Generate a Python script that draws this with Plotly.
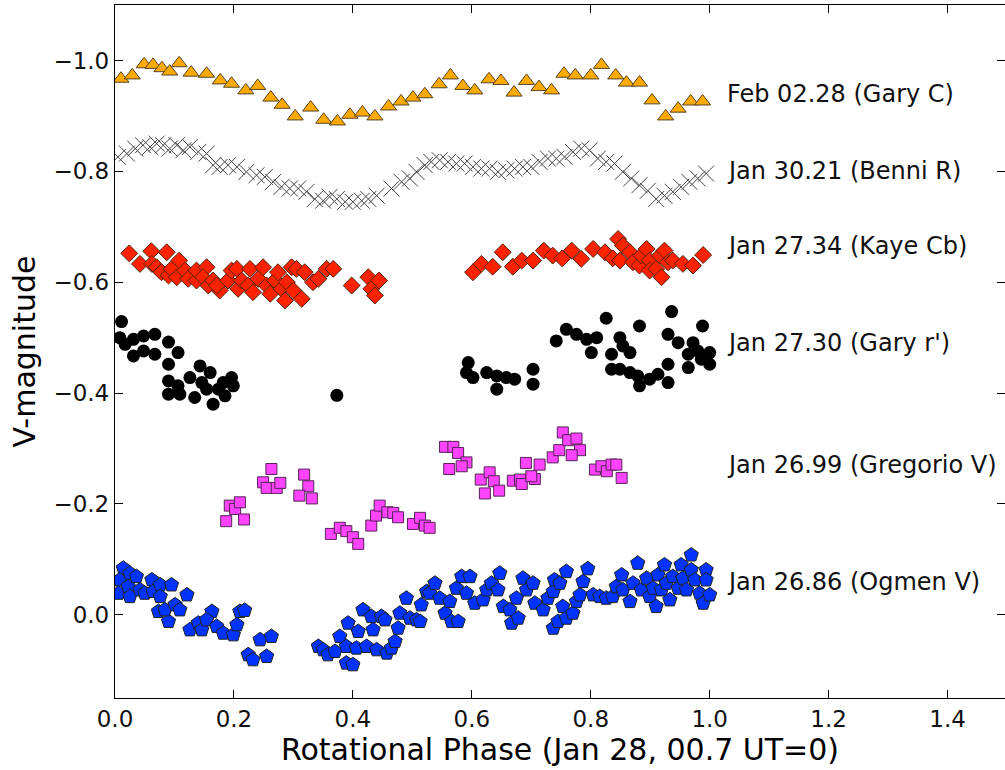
import plotly.graph_objects as go

# ---------------- data ----------------
gary_c_x = [0.010, 0.029, 0.049, 0.064, 0.079, 0.092, 0.108, 0.128, 0.154, 0.177, 0.196, 0.220, 0.240,
            0.262, 0.281, 0.303, 0.329, 0.351, 0.374, 0.395, 0.416, 0.437, 0.460, 0.481, 0.501, 0.521,
            0.545, 0.564, 0.585, 0.605, 0.629, 0.649, 0.671, 0.692, 0.713, 0.734, 0.755, 0.774, 0.800,
            0.818, 0.842, 0.860, 0.882, 0.903, 0.926, 0.947, 0.968, 0.988]
gary_c_y = [-0.967, -0.973, -0.993, -0.992, -0.986, -0.980, -0.995, -0.978, -0.976, -0.964, -0.958, -0.946, -0.954,
            -0.933, -0.920, -0.899, -0.915, -0.893, -0.890, -0.902, -0.906, -0.899, -0.917, -0.926, -0.933, -0.939,
            -0.957, -0.973, -0.954, -0.946, -0.966, -0.963, -0.942, -0.963, -0.952, -0.946, -0.976, -0.973, -0.973,
            -0.992, -0.973, -0.960, -0.960, -0.928, -0.899, -0.913, -0.926, -0.926]

benni_x = [0.005, 0.020, 0.034, 0.047, 0.059, 0.070, 0.081, 0.092, 0.104, 0.115, 0.126, 0.140, 0.154, 0.165,
           0.176, 0.190, 0.205, 0.221, 0.238, 0.252, 0.266, 0.280, 0.294, 0.308, 0.322, 0.336, 0.350, 0.361,
           0.373, 0.387, 0.400, 0.415, 0.426, 0.440, 0.465, 0.482, 0.496, 0.507, 0.521, 0.532, 0.546, 0.560,
           0.574, 0.588, 0.602, 0.616, 0.630, 0.644, 0.658, 0.672, 0.686, 0.700, 0.714, 0.728, 0.742, 0.756,
           0.770, 0.784, 0.798, 0.812, 0.826, 0.840, 0.854, 0.868, 0.882, 0.896, 0.910, 0.924, 0.938, 0.952,
           0.966, 0.980, 0.994]
benni_y = [-0.826, -0.832, -0.841, -0.847, -0.844, -0.850, -0.847, -0.841, -0.847, -0.838, -0.844, -0.835, -0.832, -0.811,
           -0.808, -0.811, -0.808, -0.799, -0.793, -0.790, -0.781, -0.772, -0.769, -0.769, -0.763, -0.750, -0.747, -0.754,
           -0.750, -0.745, -0.745, -0.747, -0.750, -0.756, -0.769, -0.781, -0.787, -0.799, -0.811, -0.817, -0.820, -0.817,
           -0.814, -0.814, -0.808, -0.805, -0.805, -0.799, -0.802, -0.805, -0.808, -0.808, -0.817, -0.823, -0.823, -0.826,
           -0.835, -0.841, -0.838, -0.823, -0.817, -0.814, -0.799, -0.787, -0.775, -0.765, -0.750, -0.756, -0.763, -0.772,
           -0.781, -0.787, -0.796]

kaye_x = [0.024, 0.042, 0.061, 0.062, 0.070, 0.087, 0.078, 0.090, 0.095, 0.108, 0.104, 0.118, 0.123, 0.137,
          0.137, 0.154, 0.148, 0.157, 0.165, 0.176, 0.171, 0.190, 0.196, 0.205, 0.207, 0.213, 0.224, 0.227,
          0.232, 0.241, 0.249, 0.255, 0.261, 0.269, 0.274, 0.280, 0.286, 0.289, 0.297, 0.300, 0.305, 0.314,
          0.319, 0.333, 0.342, 0.356, 0.367, 0.398, 0.426, 0.431, 0.437, 0.444,
          0.602, 0.616, 0.635, 0.652, 0.669, 0.684, 0.703, 0.721, 0.736, 0.752, 0.768, 0.784, 0.804, 0.824,
          0.837, 0.846, 0.854, 0.849, 0.866, 0.871, 0.882, 0.885, 0.894, 0.899, 0.899, 0.910, 0.916, 0.924,
          0.919, 0.930, 0.938, 0.955, 0.972, 0.989]
kaye_y = [-0.652, -0.633, -0.656, -0.633, -0.627, -0.654, -0.618, -0.612, -0.624, -0.639, -0.609, -0.621, -0.606, -0.603,
          -0.621, -0.627, -0.609, -0.594, -0.603, -0.585, -0.594, -0.603, -0.621, -0.624, -0.588, -0.603, -0.594, -0.624,
          -0.582, -0.606, -0.627, -0.594, -0.579, -0.603, -0.618, -0.588, -0.567, -0.600, -0.627, -0.585, -0.624, -0.570,
          -0.618, -0.600, -0.606, -0.624, -0.624, -0.594, -0.609, -0.588, -0.576, -0.603,
          -0.618, -0.633, -0.628, -0.654, -0.628, -0.639, -0.639, -0.657, -0.648, -0.643, -0.657, -0.642, -0.660, -0.654,
          -0.643, -0.678, -0.666, -0.639, -0.654, -0.636, -0.630, -0.648, -0.660, -0.639, -0.621, -0.624, -0.648, -0.657,
          -0.609, -0.636, -0.639, -0.633, -0.630, -0.649]

gary_r_x = [0.011, 0.008, 0.017, 0.031, 0.031, 0.048, 0.048, 0.067, 0.067, 0.090, 0.106, 0.090, 0.090, 0.090,
            0.106, 0.109, 0.126, 0.134, 0.143, 0.146, 0.154, 0.160, 0.165, 0.174, 0.182, 0.185, 0.196, 0.199,
            0.373,
            0.594, 0.591, 0.602, 0.625, 0.642, 0.642, 0.658, 0.672, 0.703, 0.703, 0.742, 0.759, 0.776, 0.793,
            0.801, 0.810, 0.826, 0.835, 0.835, 0.849, 0.854, 0.866, 0.849, 0.866, 0.882, 0.879, 0.882, 0.899,
            0.913, 0.930, 0.930, 0.936, 0.930, 0.947, 0.964, 0.964, 0.972, 0.988, 0.980, 0.986, 1.000, 1.000]
gary_r_y = [-0.529, -0.500, -0.488, -0.497, -0.467, -0.503, -0.476, -0.506, -0.470, -0.492, -0.473, -0.452, -0.422, -0.398,
            -0.413, -0.398, -0.428, -0.392, -0.449, -0.419, -0.407, -0.437, -0.380, -0.407, -0.419, -0.395, -0.428, -0.413,
            -0.396,
            -0.455, -0.437, -0.428, -0.437, -0.431, -0.407, -0.428, -0.425, -0.443, -0.416, -0.494, -0.515, -0.506, -0.497,
            -0.473, -0.500, -0.535, -0.470, -0.443, -0.500, -0.485, -0.473, -0.443, -0.437, -0.521, -0.431, -0.413, -0.425,
            -0.434, -0.419, -0.452, -0.547, -0.506, -0.491, -0.470, -0.446, -0.491, -0.521, -0.476, -0.461, -0.473, -0.452]

gregorio_x = [0.187, 0.193, 0.202, 0.210, 0.217, 0.249, 0.263, 0.255, 0.272, 0.278, 0.318, 0.325, 0.310, 0.331,
              0.363, 0.378, 0.389, 0.400, 0.409, 0.431, 0.439, 0.445, 0.458, 0.468, 0.476, 0.501, 0.513, 0.521,
              0.529, 0.555, 0.569, 0.577, 0.591, 0.583, 0.562, 0.615, 0.630, 0.637, 0.622, 0.646, 0.669, 0.681,
              0.684, 0.691, 0.706, 0.700, 0.714, 0.736, 0.747, 0.753, 0.762, 0.776, 0.782, 0.768, 0.807, 0.818,
              0.827, 0.835, 0.843, 0.852]
gregorio_y = [-0.169, -0.197, -0.191, -0.203, -0.172, -0.239, -0.263, -0.229, -0.229, -0.238, -0.253, -0.232, -0.215, -0.210,
              -0.146, -0.157, -0.151, -0.140, -0.128, -0.161, -0.179, -0.197, -0.185, -0.184, -0.176, -0.164, -0.175, -0.161,
              -0.157, -0.303, -0.303, -0.292, -0.275, -0.268, -0.263, -0.244, -0.257, -0.241, -0.219, -0.224, -0.242, -0.244,
              -0.236, -0.274, -0.245, -0.250, -0.271, -0.284, -0.297, -0.329, -0.315, -0.318, -0.297, -0.288, -0.262, -0.268,
              -0.259, -0.271, -0.271, -0.247]

ogmen_x = [0.014, 0.008, 0.006, 0.025, 0.022, 0.025, 0.036, 0.042, 0.050, 0.062, 0.064, 0.076, 0.076, 0.095,
           0.073, 0.090, 0.084, 0.101, 0.109, 0.121, 0.126, 0.140, 0.146, 0.163, 0.154, 0.171, 0.182, 0.199,
           0.205, 0.210, 0.218, 0.224, 0.232, 0.244, 0.255, 0.263, 0.342, 0.350, 0.358, 0.370, 0.378, 0.389,
           0.392, 0.389, 0.400, 0.409, 0.406, 0.417, 0.423, 0.431, 0.434, 0.440, 0.448, 0.454, 0.457, 0.465,
           0.471, 0.476, 0.479, 0.490, 0.496, 0.507, 0.515, 0.524, 0.513, 0.529, 0.538, 0.546, 0.555, 0.566,
           0.577, 0.563, 0.574, 0.583, 0.597, 0.591, 0.605, 0.619, 0.625, 0.633, 0.647, 0.644, 0.653, 0.664,
           0.667, 0.678, 0.675, 0.686, 0.692, 0.703, 0.706, 0.720, 0.728, 0.737, 0.739, 0.748, 0.759, 0.753,
           0.737, 0.745, 0.759, 0.770, 0.776, 0.782, 0.787, 0.795, 0.804, 0.815, 0.826, 0.837, 0.843, 0.852,
           0.854, 0.866, 0.871, 0.879, 0.885, 0.894, 0.899, 0.905, 0.910, 0.913, 0.919, 0.924, 0.927, 0.933,
           0.938, 0.947, 0.952, 0.955, 0.961, 0.969, 0.969, 0.975, 0.983, 0.989, 0.994, 0.994, 1.000]
ogmen_y = [-0.084, -0.063, -0.039, -0.075, -0.051, -0.033, -0.069, -0.045, -0.039, -0.063, -0.042, -0.054, -0.033, -0.054,
           -0.006, 0.012, -0.009, -0.018, -0.009, -0.036, 0.027, 0.015, 0.027, -0.006, 0.009, 0.021, 0.033, 0.036,
           0.018, -0.006, -0.008, 0.072, 0.081, 0.045, 0.075, 0.039, 0.057, 0.063, 0.072, 0.066, 0.039, 0.057,
           0.015, 0.087, 0.090, 0.030, 0.060, -0.009, 0.057, 0.003, 0.027, 0.063, 0.003, 0.009, 0.069, 0.060,
           0.048, 0.024, -0.003, -0.030, 0.006, 0.009, -0.018, -0.042, 0.012, -0.039, -0.057, -0.030, -0.003, 0.012,
           0.012, -0.024, -0.048, -0.069, -0.069, -0.039, -0.021, -0.027, -0.045, -0.057, -0.075, -0.045, -0.015, -0.009,
           0.015, 0.006, -0.030, -0.066, -0.045, -0.057, -0.021, -0.009, -0.030, -0.042, -0.063, -0.057, -0.078, -0.015,
           0.024, 0.012, 0.006, -0.003, -0.024, -0.036, -0.060, -0.083, -0.036, -0.033, -0.030, -0.033, -0.051, -0.072,
           -0.045, -0.024, -0.057, -0.093, -0.045, -0.066, -0.033, -0.048, -0.015, -0.072, -0.045, -0.090, -0.057, -0.027,
           -0.069, -0.048, -0.090, -0.066, -0.045, -0.108, -0.081, -0.063, -0.039, -0.021, -0.081, -0.063, -0.036]

labels = ["Feb 02.28 (Gary C)", "Jan 30.21 (Benni R)", "Jan 27.34 (Kaye Cb)",
          "Jan 27.30 (Gary r')", "Jan 26.99 (Gregorio V)", "Jan 26.86 (Ogmen V)"]
label_y = [-0.94, -0.80, -0.665, -0.49, -0.27, -0.06]

x_ticks = [0.0, 0.2, 0.4, 0.6, 0.8, 1.0, 1.2, 1.4]
x_ticktext = ["0.0", "0.2", "0.4", "0.6", "0.8", "1.0", "1.2", "1.4"]
y_ticks = [-1.0, -0.8, -0.6, -0.4, -0.2, 0.0]
y_ticktext = ["\u22121.0", "\u22120.8", "\u22120.6", "\u22120.4", "\u22120.2", "0.0"]

# ---------------- figure ----------------
fig = go.Figure()
edge = dict(color="#222222", width=1)

fig.add_trace(go.Scatter(x=ogmen_x, y=ogmen_y, mode="markers",
                         marker=dict(symbol="pentagon", size=15, color="#0033FF", line=edge)))
fig.add_trace(go.Scatter(x=gregorio_x, y=gregorio_y, mode="markers",
                         marker=dict(symbol="square", size=11, color="#FF44FF", line=dict(color="#552255", width=1))))
fig.add_trace(go.Scatter(x=gary_r_x, y=gary_r_y, mode="markers",
                         marker=dict(symbol="circle", size=13, color="black", line=dict(color="black", width=0))))
fig.add_trace(go.Scatter(x=kaye_x, y=kaye_y, mode="markers",
                         marker=dict(symbol="diamond", size=13, color="#FF2200", line=dict(color="#552211", width=1))))
fig.add_trace(go.Scatter(x=benni_x, y=benni_y, mode="markers",
                         marker=dict(symbol="x-thin-open", size=16, color="#444444", line=dict(color="#444444", width=1))))
fig.add_trace(go.Scatter(x=gary_c_x, y=gary_c_y, mode="markers",
                         marker=dict(symbol="triangle-up", size=14, color="#FFAA00", line=dict(color="#554422", width=1))))

for t, yv in zip(labels, label_y):
    fig.add_annotation(x=1.025, y=yv, text=t, showarrow=False, xanchor="left", yanchor="middle",
                       font=dict(family="DejaVu Sans", size=24, color="#111111"))

axis_common = dict(showline=True, linecolor="black", linewidth=1.3, mirror="ticks",
                   ticks="inside", ticklen=8, tickwidth=1, tickcolor="black",
                   showgrid=False, zeroline=False,
                   tickfont=dict(family="DejaVu Sans", size=23, color="#111111"))

fig.update_layout(
    width=1005, height=770,
    margin=dict(l=115, r=0, t=5, b=72),
    paper_bgcolor="white", plot_bgcolor="white",
    showlegend=False,
    xaxis=dict(range=[0, 1.4966], tickvals=x_ticks, ticktext=x_ticktext,
               title=dict(text="Rotational Phase (Jan 28, 00.7 UT=0)", standoff=4,
                          font=dict(family="DejaVu Sans", size=30, color="black")),
               **axis_common),
    yaxis=dict(range=[0.15, -1.1], tickvals=y_ticks, ticktext=y_ticktext,
               title=dict(text="V-magnitude", standoff=8,
                          font=dict(family="DejaVu Sans", size=30, color="black")),
               **axis_common),
)

fig.write_html("out.html")
